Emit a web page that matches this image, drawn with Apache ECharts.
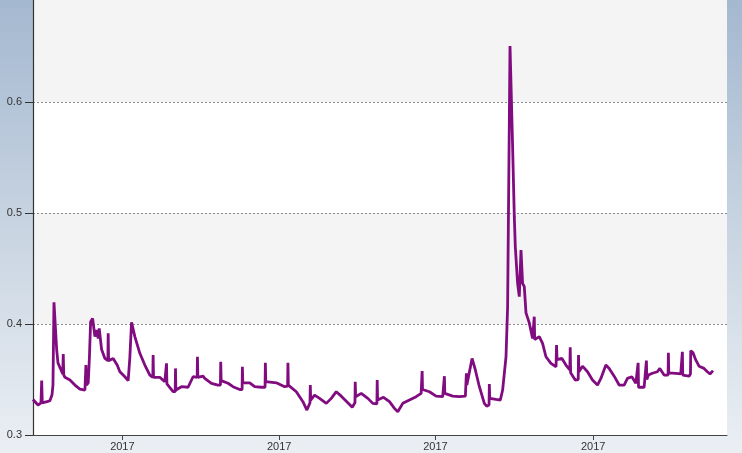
<!DOCTYPE html>
<html>
<head>
<meta charset="utf-8">
<script src="https://cdn.jsdelivr.net/npm/echarts@6/dist/echarts.min.js"></script>
<style>
	html, body { margin: 0; padding: 0; }
	#chart { width: 742px; height: 453px; }
</style>
</head>
<body>
<div id="chart"></div>
<script>
// x positions in days from the first reading
var days = [
	0, 1.0, 1.6, 1.74, 1.86, 2.8, 3.4, 3.8, 4.0, 4.2, 4.74, 5.0, 5.96, 6.06, 6.16, 6.4, 7.4, 8.4, 9.4, 10.4,
	10.52, 10.6, 10.7, 11.06, 11.3, 11.54, 11.94, 12.4, 12.74, 13.06, 13.26, 13.74, 14.4, 15.0, 15.06, 15.14, 15.4, 16.06, 16.86, 17.4,
	18.4, 19.06, 19.4, 19.74, 20.4, 21.4, 22.4, 23.4, 24.0, 24.06, 24.14, 24.4, 25.4, 26.4, 26.68, 26.74, 26.82, 27.26, 28.06, 28.48,
	28.54, 28.62, 29.74, 31.06, 32.06, 32.88, 32.94, 33.02, 33.4, 34.06, 34.4, 35.74, 37.06, 37.54, 37.6, 37.68, 38.06, 39.06, 40.06, 41.4,
	41.88, 41.94, 42.02, 42.4, 43.4, 44.4, 45.74, 46.48, 46.54, 46.62, 46.94, 48.74, 50.4, 51.0, 51.06, 51.14, 51.4, 52.74, 54.06, 54.86,
	55.48, 55.54, 55.62, 56.4, 57.4, 58.74, 59.74, 60.74, 61.74, 63.06, 63.94, 64.48, 64.54, 64.62, 65.74, 67.06, 68.06, 68.4, 68.88, 68.94,
	69.02, 69.4, 70.2, 71.4, 72.4, 73.06, 74.06, 75.4, 76.74, 77.74, 77.88, 77.94, 78.02, 78.4, 79.4, 80.74, 82.06, 82.34, 82.4, 82.48,
	84.06, 85.4, 86.6, 86.8, 86.9, 87.26, 87.94, 88.6, 89.4, 90.4, 90.86, 91.34, 91.4, 91.48, 92.74, 93.6, 94.06, 94.4, 94.74, 95.06,
	95.54, 96.06, 96.4, 96.6, 97.06, 97.4, 97.74, 98.06, 98.4, 98.74, 99.4, 100.06, 100.4, 100.48, 100.74, 101.4, 102.06, 102.74, 103.74, 104.76,
	104.86, 104.96, 105.94, 106.74, 107.52, 107.6, 107.68, 107.94, 108.6, 109.2, 109.26, 109.34, 109.54, 110.06, 111.06, 112.06, 113.06, 113.74, 114.74, 115.4,
	116.4, 117.4, 118.4, 119.06, 119.94, 120.74, 121.14, 121.2, 121.28, 121.4, 122.4, 122.8, 122.86, 122.94, 123.26, 124.06, 125.06, 125.54, 126.4, 127.2,
	127.26, 127.34, 127.74, 128.74, 129.74, 130.0, 130.06, 130.14, 130.4, 131.4, 131.68, 131.74, 132.2, 132.74, 133.4, 134.4, 135.06, 135.6, 136.2
];
var values = [
	0.332, 0.327, 0.329, 0.349, 0.329, 0.330, 0.331, 0.336, 0.345, 0.4195, 0.377, 0.365, 0.355, 0.373, 0.354, 0.352, 0.3495, 0.345, 0.3414, 0.3405,
	0.341, 0.363, 0.345, 0.347, 0.370, 0.402, 0.405, 0.3886, 0.3946, 0.387, 0.396, 0.377, 0.369, 0.367, 0.3916, 0.367, 0.367, 0.369, 0.363, 0.357,
	0.3525, 0.349, 0.370, 0.4015, 0.3886, 0.3736, 0.363, 0.354, 0.352, 0.372, 0.352, 0.351, 0.352, 0.348, 0.347, 0.3646, 0.346, 0.3435, 0.339, 0.339,
	0.360, 0.3405, 0.3435, 0.343, 0.3525, 0.352, 0.3705, 0.352, 0.353, 0.353, 0.351, 0.3466, 0.345, 0.345, 0.366, 0.349, 0.3495, 0.3466, 0.3435, 0.341,
	0.341, 0.3615, 0.347, 0.3466, 0.347, 0.3435, 0.343, 0.343, 0.365, 0.348, 0.348, 0.347, 0.3435, 0.344, 0.365, 0.345, 0.345, 0.339, 0.330, 0.3225,
	0.329, 0.345, 0.3315, 0.336, 0.333, 0.3285, 0.333, 0.339, 0.335, 0.329, 0.325, 0.329, 0.348, 0.3345, 0.3375, 0.333, 0.3285, 0.327, 0.328, 0.3495,
	0.3315, 0.3315, 0.334, 0.330, 0.324, 0.321, 0.3285, 0.3315, 0.3345, 0.3375, 0.338, 0.3577, 0.341, 0.341, 0.339, 0.335, 0.3345, 0.3345, 0.353, 0.3375,
	0.335, 0.3345, 0.335, 0.3556, 0.345, 0.345, 0.369, 0.3586, 0.3435, 0.3285, 0.326, 0.327, 0.346, 0.333, 0.332, 0.3315, 0.3405, 0.3556, 0.3705, 0.4156,
	0.6505, 0.560, 0.4967, 0.4696, 0.4366, 0.4246, 0.4667, 0.4366, 0.4336, 0.410, 0.401, 0.387, 0.4066, 0.386, 0.3856, 0.3886, 0.3826, 0.3705, 0.3646, 0.3615,
	0.381, 0.368, 0.369, 0.363, 0.3586, 0.379, 0.356, 0.3556, 0.3495, 0.350, 0.372, 0.357, 0.357, 0.362, 0.357, 0.3495, 0.345, 0.351, 0.363, 0.360,
	0.353, 0.345, 0.345, 0.351, 0.3525, 0.3466, 0.345, 0.365, 0.343, 0.343, 0.343, 0.343, 0.367, 0.350, 0.354, 0.3556, 0.357, 0.360, 0.354, 0.354,
	0.374, 0.356, 0.356, 0.3556, 0.355, 0.355, 0.375, 0.354, 0.354, 0.353, 0.355, 0.376, 0.374, 0.3676, 0.362, 0.360, 0.357, 0.355, 0.358
];
// where the "2017" ticks sit on the day axis
var tickDays = [17.9, 49.3, 80.6, 112.2];
var tickLabel = "2017";

var seriesData = days.map(function (d, i) {
	return [d, values[i]];
});

var chart = echarts.init(document.getElementById("chart"));
chart.setOption({
	animation: false,
	backgroundColor: {
		type: "linear",
		x: 0, y: 0, x2: 0, y2: 1,
		colorStops: [
			{ offset: 0, color: "#a4b8d0" },
			{ offset: 0.5, color: "#c8d4e1" },
			{ offset: 1, color: "#ebeff4" },
		],
	},
	grid: {
		left: 33,
		right: 15,
		top: -9, // 0.7 sits just above the visible area
		bottom: 18,
		outerBoundsMode: "none",
		containLabel: false,
	},
	xAxis: {
		type: "value",
		min: 0,
		max: 139,
		splitLine: { show: false },
		axisLine: { lineStyle: { color: "#444", width: 1 } },
		axisTick: {
			customValues: tickDays,
			length: 5,
			lineStyle: { color: "#444" },
		},
		axisLabel: {
			customValues: tickDays,
			formatter: function () { return tickLabel; },
			margin: 6,
			color: "#333",
			fontSize: 11,
			fontFamily: "Liberation Sans",
		},
	},
	yAxis: {
		type: "value",
		min: 0.3,
		max: 0.7,
		interval: 0.1,
		axisLine: { show: true, lineStyle: { color: "#333", width: 1.2 } },
		axisTick: { show: true, length: 8, lineStyle: { color: "#333" } },
		axisLabel: {
			formatter: function (v) { return v.toFixed(1); },
			margin: 11,
			color: "#333",
			fontSize: 11,
			fontFamily: "Liberation Sans",
		},
		splitLine: {
			show: true,
			lineStyle: { color: "#8c8c8c", type: [2, 2], width: 1 },
		},
		splitArea: {
			show: true,
			areaStyle: { color: ["#ffffff", "#f4f4f4"] },
		},
	},
	series: [
		{
			type: "line",
			data: seriesData,
			showSymbol: false,
			lineStyle: { color: "#800c80", width: 2.8 },
			z: 3,
		},
	],
});
</script>
</body>
</html>
